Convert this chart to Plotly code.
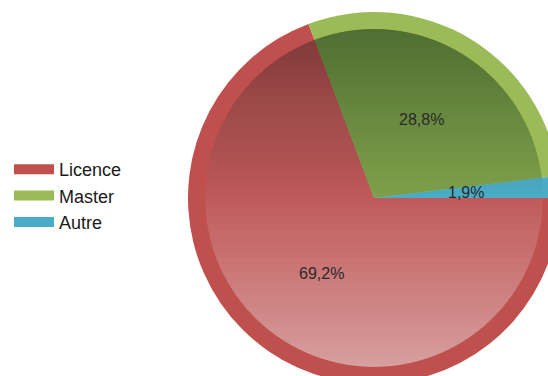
import math
import plotly.graph_objects as go

labels = ["Licence", "Master", "Autre"]
values = [69.2, 28.8, 1.9]
ring_colors = ["#C0504D", "#9BBB59", "#4BACC6"]
fill_colors = ["#C05A5A", "#7FA04A", "#4BACC6"]

# the pie runs past the window edges, so the figure is a bit larger
W, H = 562, 386
cx, cy = 374, 198
r_out, r_in = 186, 169
r_text = 92


def dom(r):
    return dict(x=[(cx - r) / W, (cx + r) / W],
                y=[1 - (cy + r) / H, 1 - (cy - r) / H])


def cap_path(t, top):
    """circle cap of the inner disc, from the top (or bottom) pole down to
    height t (t in [-1, 1], -1 = top)"""
    a0 = math.asin(max(-1, min(1, -t)))  # angle of cut line
    pts = []
    n = 60
    if top:
        angs = [a0 + (math.pi - 2 * a0) * i / n for i in range(n + 1)]
    else:
        angs = [a0 - (math.pi + 2 * a0) * i / n for i in range(n + 1)]
    for a in angs:
        px = cx + r_in * math.cos(a)
        py = cy - r_in * math.sin(a)
        pts.append(f"{px / W:.5f},{1 - py / H:.5f}")
    return "M" + " L".join(pts) + " Z"


fig = go.Figure()
fig.add_trace(go.Pie(labels=labels, values=values, sort=False,
                     direction="clockwise", rotation=90,
                     marker=dict(colors=ring_colors, line=dict(width=0)),
                     textinfo="none", hoverinfo="skip", showlegend=False,
                     domain=dom(r_out)))
fig.add_trace(go.Pie(labels=labels, values=values, sort=False,
                     direction="clockwise", rotation=90,
                     marker=dict(colors=fill_colors, line=dict(width=0)),
                     textinfo="none", showlegend=False, domain=dom(r_in)))

# vertical shading of the inner disc: darker at top, lighter at bottom
N = 24
dark, light = 0.28, 0.45
prev_d, prev_l = 0.0, 0.0
for k in range(1, N + 1):
    d = dark * k / N
    op = 1 - (1 - d) / (1 - prev_d)
    prev_d = d
    fig.add_shape(type="path", xref="paper", yref="paper", layer="above",
                  path=cap_path(-(k - 0.5) / N, True),
                  fillcolor="black", opacity=op, line=dict(width=0))
    lv = light * k / N
    op = 1 - (1 - lv) / (1 - prev_l)
    prev_l = lv
    fig.add_shape(type="path", xref="paper", yref="paper", layer="above",
                  path=cap_path((k - 0.5) / N, False),
                  fillcolor="white", opacity=op, line=dict(width=0))

# legend entries as wide colour bars
for lab, col in zip(labels, ring_colors):
    fig.add_trace(go.Scatter(x=[None], y=[None], mode="lines", name=lab,
                             line=dict(color=col, width=14)))

# slice labels at mid angle of each slice
total = sum(values)
cum = 0
for v in values:
    ang = -math.radians((cum + v / 2) / total * 360)
    cum += v
    px = cx + r_text * math.cos(ang)
    py = cy - r_text * math.sin(ang)
    fig.add_annotation(x=px / W, y=1 - py / H, xref="paper", yref="paper",
                       xanchor="center", yanchor="middle",
                       text=f"{v:.1f}%".replace(".", ","), showarrow=False,
                       font=dict(family="Liberation Sans", size=16, color="#2a2a2a"))

fig.update_layout(
    width=W, height=H,
    margin=dict(l=0, r=0, t=0, b=0),
    paper_bgcolor="white", plot_bgcolor="white",
    xaxis=dict(visible=False), yaxis=dict(visible=False),
    legend=dict(x=9 / W, y=1 - 196 / H, xanchor="left", yanchor="middle",
                itemwidth=40,
                font=dict(family="Liberation Sans", size=18, color="#1a1a1a"),
                itemclick=False, itemdoubleclick=False),
)

fig.write_html("out.html", config={"displayModeBar": False},
               post_script="document.body.style.margin='0';"
                           "document.body.style.overflow='hidden';")
